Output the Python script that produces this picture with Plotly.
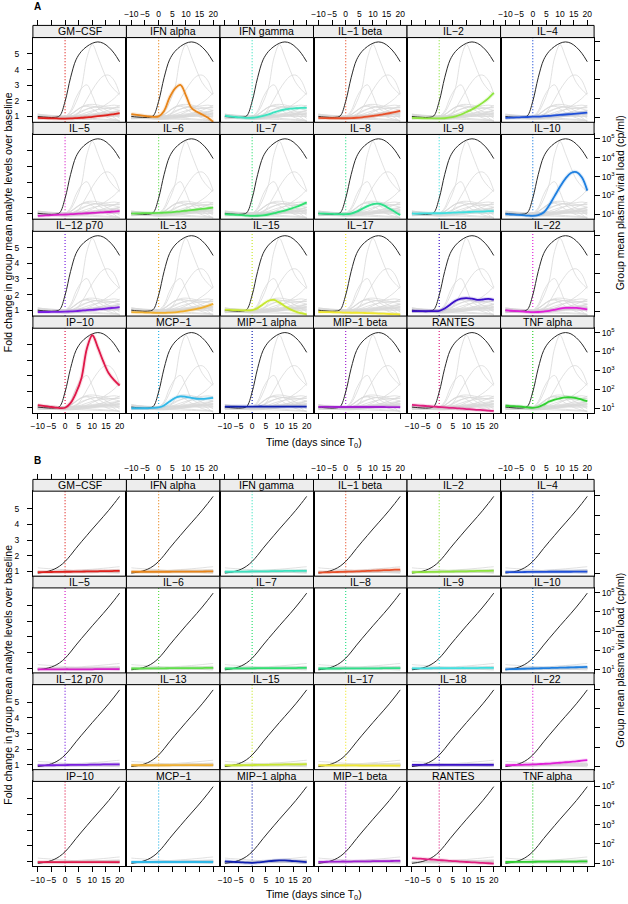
import plotly.graph_objects as go

W, H = 628, 904

ANALYTES = ["GM−CSF", "IFN alpha", "IFN gamma", "IL−1 beta", "IL−2", "IL−4",
            "IL−5", "IL−6", "IL−7", "IL−8", "IL−9", "IL−10",
            "IL−12 p70", "IL−13", "IL−15", "IL−17", "IL−18", "IL−22",
            "IP−10", "MCP−1", "MIP−1 alpha", "MIP−1 beta", "RANTES", "TNF alpha"]

COLORS = ["#E0201C", "#E8851A", "#3DE3C0", "#E8502A", "#8EE53F", "#1F4FD8",
          "#D820C8", "#5EE04A", "#2EE070", "#2EE08A", "#40E0E0", "#1E7FE0",
          "#7A1FE0", "#F0B030", "#C8E830", "#F0E830", "#3A10C8", "#E020D8",
          "#E0184A", "#30B8E8", "#1020B0", "#A020D0", "#E02080", "#30D030"]

DAYS = [-10, -8, -6, -4, -2, 0, 2, 4, 6, 8, 10, 12, 14, 16, 18, 20]

# group mean plasma viral load, log10 copies/ml
A_VL_LOG10 = [1.05, 1.02, 1.00, 1.00, 1.08, 1.85, 3.10, 4.05, 4.50, 4.76, 4.93, 5.00, 4.93, 4.72, 4.40, 3.95]
B_VL_LOG10 = [1.00, 1.04, 1.10, 1.20, 1.36, 1.60, 1.92, 2.28, 2.62, 2.95, 3.28, 3.60, 3.92, 4.25, 4.60, 4.97]

# panel A: fold change over baseline
A_GM_CSF = [0.90, 0.89, 0.88, 0.87, 0.86, 0.86, 0.87, 0.89, 0.91, 0.94, 0.97, 1.01, 1.05, 1.09, 1.15, 1.21]
A_IFN_ALPHA = [1.15, 1.10, 1.05, 1.00, 0.97, 1.00, 1.35, 2.20, 2.78, 3.02, 2.35, 1.55, 1.30, 1.12, 0.92, 0.65]
A_IFN_GAMMA = [1.04, 1.00, 0.96, 0.93, 0.90, 0.91, 0.95, 1.03, 1.13, 1.25, 1.36, 1.44, 1.49, 1.52, 1.54, 1.55]
A_IL1_BETA = [0.90, 0.89, 0.88, 0.88, 0.88, 0.88, 0.89, 0.91, 0.94, 0.98, 1.03, 1.08, 1.14, 1.20, 1.27, 1.35]
A_IL2 = [0.90, 0.89, 0.88, 0.87, 0.87, 0.87, 0.88, 0.93, 1.00, 1.12, 1.28, 1.45, 1.65, 1.88, 2.15, 2.50]
A_IL4 = [0.90, 0.92, 0.93, 0.95, 0.96, 0.98, 0.99, 1.01, 1.03, 1.06, 1.09, 1.12, 1.15, 1.18, 1.21, 1.24]
A_IL5 = [0.83, 0.85, 0.87, 0.89, 0.91, 0.92, 0.94, 0.96, 0.98, 1.00, 1.02, 1.04, 1.06, 1.08, 1.11, 1.13]
A_IL6 = [0.98, 0.99, 1.00, 1.01, 1.01, 1.02, 1.04, 1.06, 1.09, 1.12, 1.16, 1.20, 1.24, 1.28, 1.32, 1.36]
A_IL7 = [0.94, 0.92, 0.90, 0.88, 0.85, 0.83, 0.84, 0.87, 0.92, 1.00, 1.08, 1.17, 1.28, 1.40, 1.54, 1.70]
A_IL8 = [0.98, 0.97, 0.96, 0.95, 0.94, 0.94, 0.98, 1.10, 1.28, 1.46, 1.59, 1.61, 1.50, 1.30, 1.10, 0.88]
A_IL9 = [0.98, 0.98, 0.99, 0.99, 1.00, 1.00, 1.01, 1.03, 1.04, 1.06, 1.07, 1.09, 1.10, 1.11, 1.13, 1.14]
A_IL10 = [0.94, 0.92, 0.90, 0.88, 0.85, 0.83, 0.88, 1.05, 1.50, 2.10, 2.70, 3.22, 3.58, 3.64, 3.30, 2.45]
A_IL12_P70 = [0.88, 0.88, 0.88, 0.89, 0.89, 0.90, 0.92, 0.94, 0.97, 1.00, 1.02, 1.05, 1.08, 1.12, 1.15, 1.19]
A_IL13 = [0.87, 0.86, 0.85, 0.84, 0.83, 0.82, 0.82, 0.84, 0.86, 0.90, 0.95, 1.01, 1.08, 1.16, 1.27, 1.40]
A_IL15 = [1.02, 1.01, 1.00, 0.99, 0.98, 1.00, 1.13, 1.38, 1.60, 1.65, 1.48, 1.25, 1.05, 0.90, 0.80, 0.72]
A_IL17 = [0.88, 0.87, 0.87, 0.86, 0.85, 0.84, 0.83, 0.83, 0.82, 0.81, 0.80, 0.78, 0.77, 0.75, 0.74, 0.72]
A_IL18 = [0.94, 0.94, 0.93, 0.93, 0.94, 0.95, 1.10, 1.35, 1.60, 1.74, 1.77, 1.73, 1.66, 1.68, 1.72, 1.66]
A_IL22 = [0.98, 0.96, 0.94, 0.92, 0.89, 0.87, 0.88, 0.91, 0.95, 1.02, 1.10, 1.14, 1.15, 1.14, 1.10, 1.05]
A_IP10 = [1.12, 1.07, 1.02, 0.98, 0.93, 0.95, 1.25, 1.90, 2.85, 4.75, 5.60, 4.82, 3.92, 3.16, 2.72, 2.38]
A_MCP1 = [0.92, 0.92, 0.92, 0.92, 0.94, 0.97, 1.10, 1.35, 1.58, 1.68, 1.65, 1.58, 1.53, 1.52, 1.55, 1.58]
A_MIP1_ALPHA = [1.03, 1.03, 1.03, 1.03, 1.03, 1.03, 1.03, 1.03, 1.02, 1.02, 1.02, 1.02, 1.02, 1.02, 1.02, 1.02]
A_MIP1_BETA = [1.01, 1.01, 1.01, 1.00, 1.00, 1.00, 1.00, 1.00, 1.00, 1.00, 1.00, 1.00, 1.00, 0.99, 0.99, 0.99]
A_RANTES = [1.13, 1.10, 1.08, 1.05, 1.03, 1.00, 0.98, 0.95, 0.93, 0.90, 0.87, 0.85, 0.82, 0.80, 0.77, 0.75]
A_TNF_ALPHA = [1.08, 1.06, 1.04, 1.02, 0.98, 0.95, 1.00, 1.15, 1.35, 1.47, 1.56, 1.62, 1.62, 1.57, 1.48, 1.38]

# panel B: fold change over baseline
B_GM_CSF = [0.95, 0.96, 0.96, 0.97, 0.97, 0.98, 0.98, 0.99, 0.99, 1.00, 1.00, 1.01, 1.02, 1.02, 1.03, 1.04]
B_IFN_ALPHA = [0.98, 0.98, 0.98, 0.98, 0.98, 0.98, 0.98, 0.98, 0.99, 0.99, 0.99, 0.99, 0.99, 0.99, 1.00, 1.00]
B_IFN_GAMMA = [0.98, 0.98, 0.99, 0.99, 0.99, 1.00, 1.00, 1.01, 1.01, 1.02, 1.02, 1.03, 1.03, 1.03, 1.04, 1.04]
B_IL1_BETA = [0.93, 0.94, 0.95, 0.96, 0.97, 0.98, 0.99, 1.00, 1.02, 1.03, 1.05, 1.06, 1.08, 1.09, 1.11, 1.12]
B_IL2 = [0.95, 0.96, 0.96, 0.97, 0.97, 0.98, 0.99, 0.99, 1.00, 1.01, 1.01, 1.02, 1.03, 1.03, 1.04, 1.05]
B_IL4 = [0.96, 0.96, 0.96, 0.96, 0.97, 0.97, 0.97, 0.97, 0.98, 0.98, 0.98, 0.98, 0.98, 0.99, 0.99, 0.99]
B_IL5 = [0.92, 0.92, 0.92, 0.92, 0.92, 0.93, 0.93, 0.93, 0.93, 0.93, 0.93, 0.94, 0.94, 0.94, 0.94, 0.94]
B_IL6 = [0.98, 0.98, 0.98, 0.99, 0.99, 0.99, 0.99, 1.00, 1.00, 1.00, 1.01, 1.01, 1.01, 1.01, 1.02, 1.02]
B_IL7 = [0.98, 0.98, 0.99, 0.99, 0.99, 0.99, 1.00, 1.00, 1.00, 1.00, 1.01, 1.01, 1.01, 1.01, 1.02, 1.02]
B_IL8 = [0.98, 0.98, 0.98, 0.98, 0.98, 0.99, 0.99, 0.99, 0.99, 0.99, 0.99, 0.99, 1.00, 1.00, 1.00, 1.00]
B_IL9 = [0.99, 0.99, 0.99, 0.99, 1.00, 1.00, 1.00, 1.00, 1.00, 1.01, 1.01, 1.01, 1.01, 1.02, 1.02, 1.02]
B_IL10 = [0.93, 0.94, 0.95, 0.96, 0.97, 0.98, 0.99, 1.00, 1.01, 1.02, 1.03, 1.04, 1.05, 1.06, 1.07, 1.08]
B_IL12_P70 = [0.97, 0.97, 0.98, 0.98, 0.99, 0.99, 1.00, 1.00, 1.01, 1.01, 1.02, 1.02, 1.03, 1.03, 1.04, 1.04]
B_IL13 = [0.98, 0.98, 0.98, 0.98, 0.98, 0.98, 0.98, 0.98, 0.99, 0.99, 0.99, 0.99, 0.99, 0.99, 0.99, 0.99]
B_IL15 = [0.97, 0.97, 0.98, 0.98, 0.99, 0.99, 1.00, 1.00, 1.01, 1.02, 1.02, 1.03, 1.03, 1.04, 1.04, 1.05]
B_IL17 = [0.97, 0.97, 0.97, 0.97, 0.97, 0.97, 0.97, 0.97, 0.96, 0.96, 0.96, 0.96, 0.96, 0.96, 0.96, 0.96]
B_IL18 = [1.00, 1.00, 1.00, 1.00, 1.00, 1.00, 1.00, 1.00, 1.00, 1.00, 1.00, 1.00, 1.00, 1.00, 1.00, 1.00]
B_IL22 = [0.98, 0.99, 1.00, 1.01, 1.02, 1.03, 1.05, 1.07, 1.09, 1.12, 1.14, 1.17, 1.20, 1.23, 1.27, 1.30]
B_IP10 = [0.97, 0.97, 0.97, 0.97, 0.97, 0.97, 0.97, 0.97, 0.97, 0.97, 0.97, 0.97, 0.97, 0.97, 0.97, 0.97]
B_MCP1 = [0.98, 0.98, 0.98, 0.98, 0.98, 0.98, 0.98, 0.98, 0.98, 0.98, 0.98, 0.98, 0.98, 0.98, 0.98, 0.98]
B_MIP1_ALPHA = [1.02, 1.00, 0.98, 0.96, 0.94, 0.93, 0.95, 0.99, 1.03, 1.06, 1.08, 1.08, 1.06, 1.03, 1.00, 0.97]
B_MIP1_BETA = [0.99, 0.99, 1.00, 1.00, 1.01, 1.01, 1.01, 1.02, 1.02, 1.02, 1.03, 1.03, 1.04, 1.04, 1.05, 1.05]
B_RANTES = [1.23, 1.20, 1.18, 1.15, 1.13, 1.10, 1.08, 1.05, 1.03, 1.00, 0.98, 0.96, 0.94, 0.92, 0.90, 0.88]
B_TNF_ALPHA = [0.98, 0.98, 0.99, 0.99, 0.99, 0.99, 1.00, 1.00, 1.00, 1.00, 1.01, 1.01, 1.01, 1.01, 1.02, 1.02]

A_VALUES = [A_GM_CSF, A_IFN_ALPHA, A_IFN_GAMMA, A_IL1_BETA, A_IL2, A_IL4,
            A_IL5, A_IL6, A_IL7, A_IL8, A_IL9, A_IL10,
            A_IL12_P70, A_IL13, A_IL15, A_IL17, A_IL18, A_IL22,
            A_IP10, A_MCP1, A_MIP1_ALPHA, A_MIP1_BETA, A_RANTES, A_TNF_ALPHA]
B_VALUES = [B_GM_CSF, B_IFN_ALPHA, B_IFN_GAMMA, B_IL1_BETA, B_IL2, B_IL4,
            B_IL5, B_IL6, B_IL7, B_IL8, B_IL9, B_IL10,
            B_IL12_P70, B_IL13, B_IL15, B_IL17, B_IL18, B_IL22,
            B_IP10, B_MCP1, B_MIP1_ALPHA, B_MIP1_BETA, B_RANTES, B_TNF_ALPHA]

X_TICKS = [-10, -5, 0, 5, 10, 15, 20]
Y_TICKS = [1, 2, 3, 4, 5]
VL_TICKS = [1e1, 1e2, 1e3, 1e4, 1e5]
VL_LABELS = ["10<sup>1</sup>", "10<sup>2</sup>", "10<sup>3</sup>", "10<sup>4</sup>", "10<sup>5</sup>"]

X_TITLE = "Time (days since T<sub>0</sub>)"
Y_TITLE = "Fold change in group mean analyte levels over baseline"
Y2_TITLE = "Group mean plasma viral load (cp/ml)"

FONT = "Liberation Sans, Arial, Helvetica, sans-serif"
L, R = 31.0, 594.0
CW = (R - L) / 6
XR = [-11.8, 22.5]

BLOCKS = [
    dict(label="A", top=24.5, rowh=97.2, strip=12.2, vals=A_VALUES, vl=A_VL_LOG10,
         lrange=[0.62, 6.05], rrange=[0.74, 5.23], xt=443, lt=222, rt=203),
    dict(label="B", top=480.0, rowh=97.07, strip=11.8, vals=B_VALUES, vl=B_VL_LOG10,
         lrange=[0.70, 6.11], rrange=[0.84, 5.24], xt=897, lt=676, rt=662),
]


def fx(x):
    return x / W


def fy(y):
    return 1 - y / H


def aid(prefix, n):
    return prefix if n == 1 else f"{prefix}{n}"


TICKFONT = dict(size=8.5, family=FONT, color="black")

fig = go.Figure()
layout = {}
shapes = []
annots = []
traces = []
top_specs = []
nx = 0
ny = 0

for blk in BLOCKS:
    vals = blk["vals"]
    gx, gy = [], []
    for s in vals:
        gx += DAYS + [None]
        gy += list(s) + [None]
    vl = [10 ** v for v in blk["vl"]]
    for p in range(24):
        r, c = divmod(p, 6)
        x0 = L + c * CW
        x1 = x0 + CW
        st = blk["top"] + r * blk["rowh"]
        ptop = st + blk["strip"]
        pbot = blk["top"] + (r + 1) * blk["rowh"]
        nx += 1
        xid = nx
        yl, yr, yc = ny + 1, ny + 2, ny + 3
        ny += 3
        col = COLORS[p]

        layout[aid("xaxis", xid)] = dict(
            domain=[fx(x0), fx(x1)], range=XR, anchor=aid("y", yl),
            showgrid=False, zeroline=False, showline=True, mirror=True,
            linecolor="black", linewidth=1, tickvals=X_TICKS, tickangle=0,
            ticks="outside" if r == 3 else "", ticklen=5, tickcolor="black", tickwidth=1,
            showticklabels=(r == 3 and c % 2 == 0), tickfont=TICKFONT,
            fixedrange=True)
        layout[aid("yaxis", yl)] = dict(
            domain=[fy(pbot), fy(ptop)], range=blk["lrange"], anchor=aid("x", xid),
            showgrid=False, zeroline=False, showline=True, mirror=True,
            linecolor="black", linewidth=1, tickvals=Y_TICKS, tickangle=0,
            ticks="outside" if c == 0 else "", ticklen=5, tickcolor="black", tickwidth=1,
            showticklabels=(c == 0 and r % 2 == 0), tickfont=TICKFONT,
            ticklabelstandoff=6, fixedrange=True)
        layout[aid("yaxis", yr)] = dict(
            overlaying=aid("y", yl), side="right", anchor=aid("x", xid), type="log",
            range=blk["rrange"], showgrid=False, zeroline=False, showline=False,
            tickvals=VL_TICKS, ticktext=VL_LABELS, tickangle=0,
            ticks="outside" if c == 5 else "", ticklen=5, tickcolor="black", tickwidth=1,
            showticklabels=(c == 5 and r % 2 == 1), tickfont=TICKFONT,
            fixedrange=True)
        layout[aid("yaxis", yc)] = dict(
            overlaying=aid("y", yl), anchor=aid("x", xid), range=blk["lrange"],
            visible=False, fixedrange=True)

        if r == 0:
            top_specs.append((xid, yl, st, c))

        traces.append(go.Scatter(x=gx, y=gy, xaxis=aid("x", xid), yaxis=aid("y", yl),
                                 mode="lines", line=dict(color="#D9D9D9", width=0.8, shape="spline"),
                                 hoverinfo="skip", showlegend=False))
        traces.append(go.Scatter(x=DAYS, y=vl, xaxis=aid("x", xid), yaxis=aid("y", yr),
                                 mode="lines", line=dict(color="#2A2A2A", width=1, shape="spline"),
                                 hoverinfo="skip", showlegend=False))
        traces.append(go.Scatter(x=DAYS, y=vals[p], xaxis=aid("x", xid), yaxis=aid("y", yc),
                                 mode="lines", line=dict(color=col, width=4, shape="spline"),
                                 opacity=0.15, hoverinfo="skip", showlegend=False))
        traces.append(go.Scatter(x=DAYS, y=vals[p], xaxis=aid("x", xid), yaxis=aid("y", yc),
                                 mode="lines", line=dict(color=col, width=1.8, shape="spline"),
                                 hoverinfo="skip", showlegend=False))

        shapes.append(dict(type="line", xref=aid("x", xid), yref=aid("y", yl) + " domain",
                           x0=0, x1=0, y0=0, y1=1, layer="below",
                           line=dict(color=col, width=1.2, dash="1px,2px")))
        shapes.append(dict(type="rect", xref="paper", yref="paper",
                           x0=fx(x0), x1=fx(x1), y0=fy(ptop), y1=fy(st),
                           fillcolor="#EDEDED", line=dict(color="black", width=1), layer="above"))
        annots.append(dict(x=fx((x0 + x1) / 2), y=fy((st + ptop) / 2), xref="paper", yref="paper",
                           text=ANALYTES[p], showarrow=False, xanchor="center", yanchor="middle",
                           font=dict(size=10.5, family=FONT, color="black")))

    # block titles
    annots.append(dict(x=fx((L + R) / 2), y=fy(blk["xt"]), xref="paper", yref="paper",
                       text=X_TITLE, showarrow=False, xanchor="center", yanchor="middle",
                       font=dict(size=10.5, family=FONT, color="black")))
    annots.append(dict(x=fx(6), y=fy(blk["lt"]), xref="paper", yref="paper", textangle=-90,
                       text=Y_TITLE, showarrow=False, xanchor="center", yanchor="middle",
                       font=dict(size=10.5, family=FONT, color="black")))
    annots.append(dict(x=fx(620), y=fy(blk["rt"]), xref="paper", yref="paper", textangle=-90,
                       text=Y2_TITLE, showarrow=False, xanchor="center", yanchor="middle",
                       font=dict(size=10.5, family=FONT, color="black")))
    annots.append(dict(x=fx(30), y=fy(blk["top"] - 19), xref="paper", yref="paper",
                       text="<b>" + blk["label"] + "</b>", showarrow=False, xanchor="left",
                       yanchor="middle", font=dict(size=10, family=FONT, color="black")))

for (xid, yl, st, c) in top_specs:
    nx += 1
    layout[aid("xaxis", nx)] = dict(
        overlaying=aid("x", xid), side="top", anchor="free", position=fy(st),
        range=XR, tickvals=X_TICKS, tickangle=0, ticks="outside", ticklen=5,
        tickcolor="black", tickwidth=1,
        showticklabels=(c % 2 == 1), tickfont=TICKFONT,
        showgrid=False, zeroline=False, showline=False, fixedrange=True)
    traces.append(go.Scatter(x=[None], y=[None], xaxis=aid("x", nx), yaxis=aid("y", yl),
                             mode="lines", hoverinfo="skip", showlegend=False))

fig.add_traces(traces)
fig.update_layout(
    width=W, height=H, autosize=False,
    margin=dict(l=0, r=0, t=0, b=0, pad=0),
    paper_bgcolor="white", plot_bgcolor="white",
    showlegend=False, font=dict(family=FONT, size=9, color="black"),
    shapes=shapes, annotations=annots, **layout)

fig.write_html("out.html", config={"displayModeBar": False, "staticPlot": True},
               post_script="document.body.style.margin='0px';document.body.style.overflow='hidden';")
